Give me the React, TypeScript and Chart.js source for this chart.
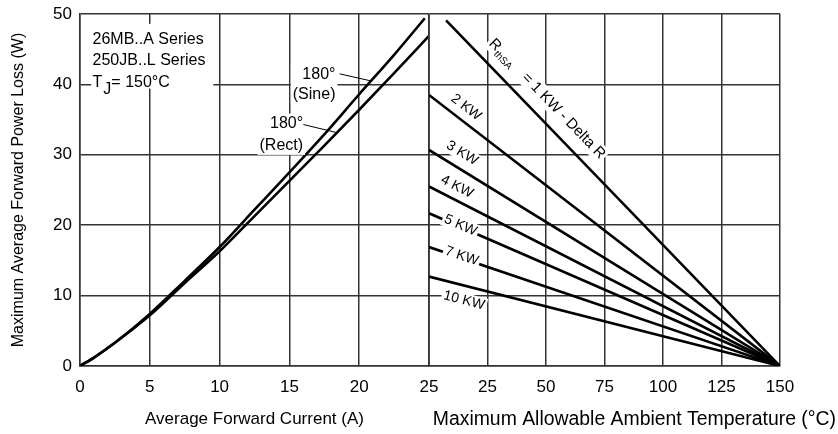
import React, { useEffect, useRef } from 'react';
import { Chart, registerables } from 'chart.js';

Chart.register(...registerables);

const FONT = '"Liberation Sans", Arial, Helvetica, sans-serif';
const GRID = '#333333';

// ---- Left panel data: power loss vs average forward current ----
const currentTicks = [0, 5, 10, 15, 20, 25];
const powerTicks = [0, 10, 20, 30, 40, 50];
const currentSine = [0, 1, 2.5, 5, 7.5, 10, 12.5, 15, 17.5, 20, 22.5, 24.7];
const lossSine = [0, 1.2, 3.3, 7.4, 12.1, 16.9, 22.2, 27.5, 32.9, 38.6, 44.2, 49.4];
const currentRect = [0, 1, 2.5, 5, 7.5, 10, 12.5, 15, 17.5, 20, 22.5, 25];
const lossRect = [0, 1.2, 3.3, 7.2, 11.8, 16.3, 21.3, 26.3, 31.3, 36.4, 41.6, 46.9];

// ---- Right panel data: heatsink thermal resistance lines ----
const tempTicks = [0, 25, 50, 75, 100, 125, 150];
const rthNames = ['1 KW - Delta R', '2 KW', '3 KW', '4 KW', '5 KW', '7 KW', '10 KW'];
const rthStartTemp = [7.3, 0, 0, 0, 0, 0, 0];
const rthStartPower = [49.1, 38.5, 30.7, 25.5, 21.7, 16.9, 12.7];
const rthEndTemp = [150, 150, 150, 150, 150, 150, 150];
const rthEndPower = [0, 0, 0, 0, 0, 0, 0];

// label placement along each line (temperature of label centre, perpendicular offset in px)
const rthLabelTemp = [44.9, 12.5, 10.9, 9.5, 13.2, 13.7, 16.5];
const rthLabelOffset = [18, 12.8, 14.5, 12.5, 1.5, 2, -14.5];

function boxedPair(ctx: CanvasRenderingContext2D, lines: string[], rightX: number, baselines: number[], size: number) {
  ctx.font = `${size}px ${FONT}`;
  let maxW = 0;
  lines.forEach((l) => { maxW = Math.max(maxW, ctx.measureText(l).width); });
  const top = baselines[0] - size * 0.78 - 2;
  const bottom = baselines[baselines.length - 1] + size * 0.25 + 1;
  ctx.fillStyle = '#fff';
  ctx.fillRect(rightX - maxW - 2, top, maxW + 4, bottom - top);
  ctx.fillStyle = '#000';
  ctx.textAlign = 'right';
  ctx.textBaseline = 'alphabetic';
  lines.forEach((l, i) => ctx.fillText(l, rightX, baselines[i]));
}

const leftAnno = {
  id: 'leftAnno',
  afterDatasetsDraw(chart: any) {
    const { ctx, scales } = chart;
    const px = (v: number) => scales.x.getPixelForValue(v);
    const py = (v: number) => scales.y.getPixelForValue(v);
    ctx.save();
    // top-left info block
    ctx.fillStyle = '#fff';
    ctx.fillRect(px(0.8), py(48.6), px(9.55) - px(0.8), py(39.4) - py(48.6));
    ctx.fillStyle = '#000';
    ctx.textAlign = 'left';
    ctx.textBaseline = 'alphabetic';
    ctx.font = `16px ${FONT}`;
    const x0 = px(0.9);
    ctx.fillText('26MB..A Series', x0, py(45.8));
    ctx.fillText('250JB..L Series', x0, py(42.7));
    const b3 = py(39.7);
    ctx.fillText('T', x0, b3);
    const wT = ctx.measureText('T').width;
    ctx.font = `16px ${FONT}`;
    ctx.fillText('J', x0 + wT + 1, b3 + 7);
    const wJ = ctx.measureText('J').width;
    ctx.font = `16px ${FONT}`;
    ctx.fillText('= 150°C', x0 + wT + wJ + 1, b3);

    // 180° (Sine)
    boxedPair(ctx, ['180°', '(Sine)'], px(18.3), [py(40.7), py(37.95)], 16);
    // 180° (Rect)
    boxedPair(ctx, ['180°', '(Rect)'], px(15.98), [py(33.8), py(30.7)], 16);

    // leader lines
    ctx.strokeStyle = '#000';
    ctx.lineWidth = 1;
    ctx.beginPath();
    ctx.moveTo(px(18.6), py(41.5));
    ctx.lineTo(px(20.83), py(40.5));
    ctx.moveTo(px(16.0), py(34.3));
    ctx.lineTo(px(18.4), py(33.15));
    ctx.stroke();
    ctx.restore();
  },
};

function drawRotatedBox(ctx: CanvasRenderingContext2D, w: number, h: number) {
  ctx.fillStyle = '#fff';
  ctx.fillRect(-w / 2 - 2, -h / 2, w + 4, h);
}

const rightAnno = {
  id: 'rightAnno',
  afterDatasetsDraw(chart: any) {
    const { ctx, scales } = chart;
    ctx.save();
    rthNames.forEach((name, i) => {
      const meta = chart.getDatasetMeta(i);
      const p0 = meta.data[0];
      const p1 = meta.data[meta.data.length - 1];
      const a = Math.atan2(p1.y - p0.y, p1.x - p0.x);
      const lx = scales.x.getPixelForValue(rthLabelTemp[i]);
      const ly = p0.y + ((lx - p0.x) * (p1.y - p0.y)) / (p1.x - p0.x);
      const d = rthLabelOffset[i];
      const cx = lx + d * Math.sin(a);
      const cy = ly - d * Math.cos(a);
      ctx.save();
      ctx.translate(cx, cy);
      ctx.rotate(a);
      ctx.textBaseline = 'middle';
      if (i === 0) {
        ctx.font = `15px ${FONT}`;
        const wR = ctx.measureText('R').width;
        const rest = '= ' + name;
        const wRest = ctx.measureText(rest).width;
        ctx.font = `10px ${FONT}`;
        const wSub = ctx.measureText('thSA').width;
        const gap = 15;
        const total = wR + wSub + gap + wRest;
        drawRotatedBox(ctx, total, 18);
        ctx.fillStyle = '#000';
        ctx.textAlign = 'left';
        let x = -total / 2;
        ctx.font = `15px ${FONT}`;
        ctx.fillText('R', x, 0);
        x += wR;
        ctx.font = `10px ${FONT}`;
        ctx.fillText('thSA', x, 5);
        x += wSub + gap;
        ctx.font = `15px ${FONT}`;
        ctx.fillText(rest, x, 0);
      } else {
        ctx.font = `14px ${FONT}`;
        const w = ctx.measureText(name).width;
        drawRotatedBox(ctx, w, 15);
        ctx.fillStyle = '#000';
        ctx.textAlign = 'center';
        ctx.fillText(name, 0, 0);
      }
      ctx.restore();
    });
    ctx.restore();
  },
  afterDraw(chart: any) {
    const { ctx, width } = chart;
    ctx.save();
    ctx.font = `19.4px ${FONT}`;
    ctx.fillStyle = '#000';
    ctx.textAlign = 'right';
    ctx.textBaseline = 'middle';
    ctx.fillText('Maximum Allowable Ambient Temperature (°C)', width - 2, 420);
    ctx.restore();
  },
};

const tickFont = { family: FONT, size: 17 };

const fitX = (s: any) => {
  s.height = 68;
  s.paddingLeft = 0;
  s.paddingRight = 0;
};

function LeftChart() {
  const ref = useRef<HTMLCanvasElement>(null);
  useEffect(() => {
    const chart = new Chart(ref.current as HTMLCanvasElement, {
      type: 'line',
      data: {
        datasets: [
          {
            data: currentSine.map((x, i) => ({ x, y: lossSine[i] })),
            borderColor: '#000',
            borderWidth: 2.6,
            pointRadius: 0,
            cubicInterpolationMode: 'monotone',
          },
          {
            data: currentRect.map((x, i) => ({ x, y: lossRect[i] })),
            borderColor: '#000',
            borderWidth: 2.6,
            pointRadius: 0,
            cubicInterpolationMode: 'monotone',
          },
        ],
      },
      options: {
        responsive: false,
        animation: false,
        layout: { padding: { top: 14, right: 11, left: 0, bottom: 0 } },
        plugins: { legend: { display: false }, tooltip: { enabled: false } },
        scales: {
          x: {
            type: 'linear',
            min: 0,
            max: 25,
            afterBuildTicks: (s: any) => { s.ticks = currentTicks.map((value) => ({ value })); },
            afterFit: fitX,
            grid: { color: GRID, lineWidth: 1.5, drawTicks: false },
            border: { color: GRID, width: 1.5 },
            ticks: { padding: 11, color: '#000', font: tickFont, maxRotation: 0, autoSkip: false },
            title: {
              display: true,
              text: 'Average Forward Current (A)',
              color: '#000',
              font: { family: FONT, size: 17 },
              padding: { top: 0, bottom: 4 },
            },
          },
          y: {
            type: 'linear',
            min: 0,
            max: 50,
            afterBuildTicks: (s: any) => { s.ticks = powerTicks.map((value) => ({ value })); },
            afterFit: (s: any) => { s.width = 80; s.paddingTop = 0; s.paddingBottom = 0; },
            grid: { color: GRID, lineWidth: 1.5, drawTicks: false },
            border: { color: GRID, width: 1.5 },
            ticks: { padding: 8, color: '#000', font: tickFont },
            title: {
              display: true,
              text: 'Maximum Average Forward Power Loss (W)',
              color: '#000',
              font: { family: FONT, size: 16 },
              padding: { top: 9, bottom: 0 },
            },
          },
        },
      },
      plugins: [leftAnno],
    } as any);
    return () => chart.destroy();
  }, []);
  return (
    <canvas
      ref={ref}
      width={440}
      height={434}
      style={{ position: 'absolute', left: 0, top: 0, width: 440, height: 434 }}
    />
  );
}

function RightChart() {
  const ref = useRef<HTMLCanvasElement>(null);
  useEffect(() => {
    const chart = new Chart(ref.current as HTMLCanvasElement, {
      type: 'line',
      data: {
        datasets: rthNames.map((name, i) => ({
          label: name,
          data: [
            { x: rthStartTemp[i], y: rthStartPower[i] },
            { x: rthEndTemp[i], y: rthEndPower[i] },
          ],
          borderColor: '#000',
          borderWidth: 2.6,
          pointRadius: 0,
        })),
      },
      options: {
        responsive: false,
        animation: false,
        layout: { padding: { top: 14, right: 58, left: 0, bottom: 0 } },
        plugins: { legend: { display: false }, tooltip: { enabled: false } },
        scales: {
          x: {
            type: 'linear',
            min: 0,
            max: 150,
            afterBuildTicks: (s: any) => { s.ticks = tempTicks.map((value) => ({ value })); },
            afterFit: fitX,
            grid: { color: GRID, lineWidth: 1.5, drawTicks: false },
            border: { color: GRID, width: 1.5 },
            ticks: {
              padding: 11,
              color: '#000',
              font: tickFont,
              maxRotation: 0,
              autoSkip: false,
              callback: (v: any) => (v === 0 ? '' : String(v)),
            },
          },
          y: {
            type: 'linear',
            min: 0,
            max: 50,
            afterBuildTicks: (s: any) => { s.ticks = powerTicks.map((value) => ({ value })); },
            afterFit: (s: any) => { s.width = 9; s.paddingTop = 0; s.paddingBottom = 0; },
            grid: { color: GRID, lineWidth: 1.5, drawTicks: false },
            border: { color: GRID, width: 1.5 },
            ticks: { display: false },
          },
        },
      },
      plugins: [rightAnno],
    } as any);
    return () => chart.destroy();
  }, []);
  return (
    <canvas
      ref={ref}
      width={418}
      height={434}
      style={{ position: 'absolute', left: 420, top: 0, width: 418, height: 434 }}
    />
  );
}

export default function App() {
  return (
    <div
      style={{
        position: 'fixed',
        left: 0,
        top: 0,
        width: 838,
        height: 434,
        background: '#fff',
        overflow: 'hidden',
      }}
    >
      <LeftChart />
      <RightChart />
    </div>
  );
}
